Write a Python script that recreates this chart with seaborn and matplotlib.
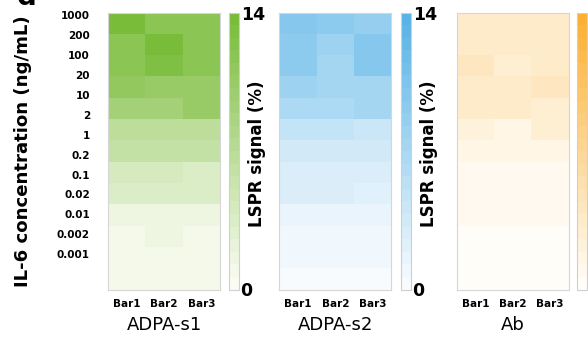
import matplotlib
matplotlib.use('Agg')
import matplotlib.pyplot as plt
from matplotlib.colors import LinearSegmentedColormap
import numpy as np
import pandas as pd
import seaborn as sns

# IL-6 concentrations (ng/mL), top to bottom
conc = ['1000', '200', '100', '20', '10', '2', '1', '0.2', '0.1', '0.02', '0.01', '0.002', '0.001']
bars = ['Bar1', 'Bar2', 'Bar3']

# LSPR signal (%), one row per concentration
adpa_s1 = [[13.5, 12.0, 11.5],
           [12.0, 13.5, 11.5],
           [11.5, 13.2, 11.5],
           [11.0, 10.5, 10.2],
           [9.3, 9.3, 10.3],
           [6.6, 6.4, 6.6],
           [6.0, 6.0, 6.0],
           [4.0, 4.2, 3.6],
           [3.4, 3.8, 3.4],
           [1.5, 1.6, 1.5],
           [1.1, 1.3, 1.1],
           [0.8, 0.9, 0.8],
           [0.7, 0.7, 0.7]]
adpa_s2 = [[10.0, 9.4, 8.6],
           [9.2, 7.8, 10.0],
           [9.2, 7.2, 9.6],
           [7.8, 7.6, 7.4],
           [6.6, 6.6, 7.0],
           [4.8, 4.8, 4.0],
           [3.6, 3.4, 3.4],
           [3.1, 2.9, 3.1],
           [2.6, 2.6, 2.4],
           [1.4, 1.4, 1.4],
           [1.1, 0.9, 0.9],
           [0.7, 0.7, 0.7],
           [0.5, 0.5, 0.5]]
ab = [[3.2, 3.8, 3.2],
      [3.3, 3.8, 3.6],
      [4.2, 3.0, 3.7],
      [3.7, 3.7, 4.2],
      [3.7, 3.6, 2.6],
      [2.0, 1.6, 2.6],
      [1.5, 1.5, 1.5],
      [1.1, 1.2, 1.1],
      [0.9, 0.9, 0.9],
      [0.7, 0.7, 0.7],
      [0.5, 0.5, 0.5],
      [0.4, 0.4, 0.4],
      [0.3, 0.3, 0.3]]

panels = ['ADPA-s1', 'ADPA-s2', 'Ab']
cmaps = [LinearSegmentedColormap.from_list('g', ['#fafcf3', '#79bc3a'], N=22),
         LinearSegmentedColormap.from_list('b', ['#f8fbfe', '#58b3e6'], N=22),
         LinearSegmentedColormap.from_list('o', ['#fffdf8', '#fbb033'], N=22)]

plt.rcParams['font.family'] = ['DejaVu Sans']

fig = plt.figure(figsize=(5.88, 3.38), dpi=100)
W, H = 588.0, 338.0
bot = 1 - 289.5 / H
hgt = 277.0 / H
heat_x = [108.0, 279.3, 456.7]
cbar_x = [228.7, 400.7, 576.7]

for i, vals in enumerate([adpa_s1, adpa_s2, ab]):
    df = pd.DataFrame(vals, index=conc, columns=bars)
    ax = fig.add_axes([heat_x[i] / W, bot, 112.0 / W, hgt])
    cax = fig.add_axes([cbar_x[i] / W, bot, 10.5 / W, hgt])
    sns.heatmap(df, ax=ax, cbar_ax=cax, cmap=cmaps[i], vmin=0, vmax=14,
                cbar_kws={'ticks': [0, 14]})
    for s in ax.spines.values():
        s.set_visible(True)
        s.set_color('#d6d6d6')
        s.set_linewidth(0.8)
    ax.tick_params(axis='x', length=0, pad=7)
    ax.set_xticklabels(bars, rotation=0, fontsize=7.5, fontweight='bold')
    ax.set_xlabel(panels[i], fontsize=13, labelpad=5)
    if i == 0:
        ax.set_yticks(np.arange(len(conc)) * 0.935 + 0.17)
        ax.set_yticklabels(conc, rotation=0, fontsize=7.5, fontweight='bold')
        ax.tick_params(axis='y', length=0, pad=13)
        ax.set_ylabel('IL-6 concentration (ng/mL)', fontsize=13.1, fontweight='bold')
        ax.yaxis.set_label_coords(-0.68, 0.5)
    else:
        ax.set_yticks([])
        ax.set_ylabel('')
    cb = ax.collections[0].colorbar
    cb.outline.set_edgecolor('#cfcfcf')
    cb.outline.set_linewidth(0.8)
    if i < 2:
        cax.tick_params(length=0, pad=1, labelsize=12.5)
        cax.set_yticklabels(['0', '14'])
        for t in cax.get_yticklabels():
            t.set_fontweight('bold')
        cax.set_ylabel('LSPR signal (%)', fontsize=12, fontweight='bold')
        cax.yaxis.set_label_coords(1.85, 0.49)
    else:
        # last colour bar runs off the right edge of the picture
        cax.set_yticks([])
        cax.set_ylabel('')

fig.text(0.045, 1.01, 'd', fontsize=20, fontweight='bold', ha='center', va='center')

fig.savefig('out.png', dpi=100)
